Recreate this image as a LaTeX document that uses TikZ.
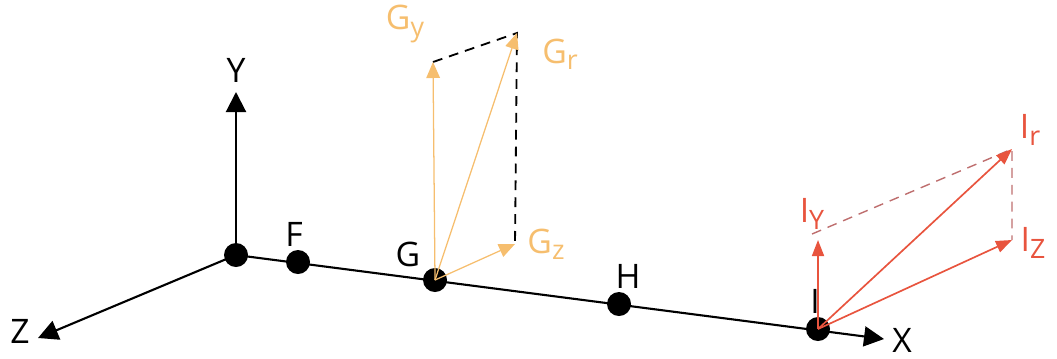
\documentclass[tikz,border=0pt]{standalone}
\usepackage{fontspec}
\setmainfont{Open Sans}
\usetikzlibrary{arrows.meta}
\definecolor{VCgold}{RGB}{246,190,110}
\definecolor{VCred}{RGB}{232,84,62}
\definecolor{VCdash}{RGB}{190,110,110}
\newcommand{\vsub}[1]{\raisebox{-0.35ex}{\fontsize{19}{20}\selectfont #1}}
\tikzset{
  dot/.style={circle,fill=black,inner sep=0pt,minimum size=0.6cm},
  axis/.style={-{Triangle[length=0.5cm,width=0.5cm]},line width=1.5pt,draw=black},
  gvec/.style={-{Triangle[length=0.4cm,width=0.34cm]},line width=0.9pt,draw=VCgold},
  rvec/.style={-{Triangle[length=0.4cm,width=0.3cm]},line width=1.2pt,draw=VCred},
  lbl/.style={font=\fontsize{24}{28}\selectfont,text=black,inner sep=0pt},
  glbl/.style={font=\fontsize{24}{28}\selectfont,text=VCgold,inner sep=0pt},
  rlbl/.style={font=\fontsize{24}{28}\selectfont,text=VCred,inner sep=0pt},
  proj/.style={dashed,dash pattern=on 7pt off 5pt,line width=1.3pt}
}
\begin{document}
\begin{tikzpicture}[x=0.025cm,y=-0.025cm]
  \useasboundingbox (0,0) rectangle (1057,358);
  % origin and axes
  \coordinate (o) at (236,255);
  \coordinate (ytip) at (236,92);
  \coordinate (ztip) at (38,338);
  \coordinate (xtip) at (884,339);
  \draw[axis] (o) -- (ytip);
  \draw[axis] (o) -- (ztip);
  \draw[axis] (o) -- (xtip);
  \node[lbl] (ylab) at (236,70) {Y};
  \node[lbl] (zlab) at (20,331) {Z};
  \node[lbl] (xlab) at (902,340) {X};
  % points on the beam
  \node[dot] (po) at (o) {};
  \node[dot] (pf) at (298,262) {};
  \node[dot] (pg) at (435,280) {};
  \node[dot] (ph) at (619,304) {};
  \node[dot] (pi) at (818,329) {};
  \node[lbl] (flab) at (294,234) {F};
  \node[lbl] (glab) at (408,254) {G};
  \node[lbl] (hlab) at (628,276) {H};
  \node[lbl] (ilab) at (815,301) {I};
  % force at G
  \coordinate (gy) at (433,62);
  \coordinate (gr) at (517,33);
  \coordinate (gz) at (515,244);
  \draw[proj] (gy) -- (gr) -- (gz);
  \draw[gvec] (pg.center) -- (gy);
  \draw[gvec] (pg.center) -- (gr);
  \draw[gvec] (pg.center) -- (gz);
  \node[glbl] (gylab) at (405,24) {G\vsub{y}};
  \node[glbl] (grlab) at (560,54) {G\vsub{r}};
  \node[glbl] (gzlab) at (546,244) {G\vsub{z}};
  % force at I
  \coordinate (iy) at (818,240);
  \coordinate (ir) at (1012,149);
  \coordinate (iz) at (1012,240);
  \draw[proj,draw=VCdash,line width=1pt] (812,234) -- (ir) -- (iz);
  \draw[rvec] (pi.center) -- (iy);
  \draw[rvec] (pi.center) -- (ir);
  \draw[rvec] (pi.center) -- (iz);
  \node[rlbl] (iylab) at (812,214) {I\vsub{Y}};
  \node[rlbl] (irlab) at (1030,130) {I\vsub{r}};
  \node[rlbl] (izlab) at (1033,243) {I\vsub{Z}};
\end{tikzpicture}
\end{document}
